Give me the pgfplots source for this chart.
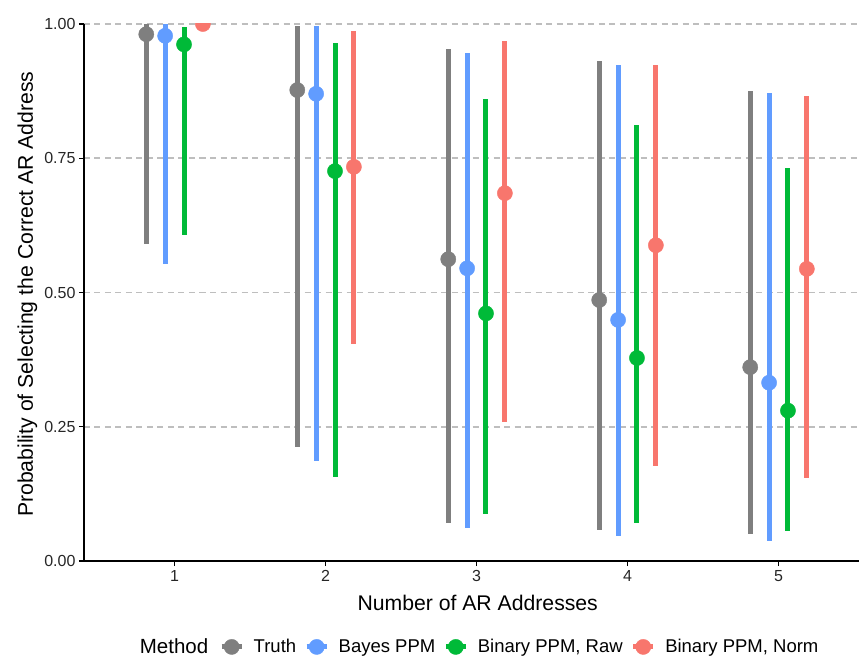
\documentclass[border=0pt]{standalone}
\usepackage{pgfplots}
\usepackage{pgfplotstable}
\pgfplotsset{compat=1.18}
\usepackage{fontspec}
\setmainfont{Liberation Sans}

\definecolor{truthc}{HTML}{7F7F7F}
\definecolor{bayesc}{HTML}{619CFF}
\definecolor{rawc}{HTML}{00BA38}
\definecolor{normc}{HTML}{F8766D}
\definecolor{gridc}{HTML}{BEBEBE}

% n = number of AR addresses, p = estimate, lo/hi = interval ends
\pgfplotstableread{
n p lo hi
1 0.981 0.590 1.000
2 0.877 0.213 0.996
3 0.562 0.071 0.953
4 0.486 0.058 0.931
5 0.361 0.050 0.875
}\truth
\pgfplotstableread{
n p lo hi
1 0.978 0.554 1.000
2 0.870 0.186 0.996
3 0.545 0.061 0.946
4 0.449 0.047 0.924
5 0.332 0.037 0.872
}\bayes
\pgfplotstableread{
n p lo hi
1 0.962 0.607 0.994
2 0.726 0.157 0.965
3 0.461 0.088 0.860
4 0.378 0.071 0.812
5 0.280 0.055 0.732
}\raw
\pgfplotstableread{
n p lo hi
1 1.000 1.000 1.000
2 0.734 0.405 0.987
3 0.685 0.259 0.968
4 0.588 0.177 0.924
5 0.544 0.155 0.866
}\norm

\pgfplotsset{
  pointrange/.style={
    only marks, mark=*, mark size=7.6bp,
    color=#1, mark options={draw=none, fill=#1},
    error bars/y dir=both, error bars/y explicit, error bars/error mark=none,
    error bars/error bar style={line width=5bp, color=#1},
  },
  prkey/.style={legend image code/.code={
      \draw[line width=5bp,#1] (-10bp,0) -- (10bp,0);
      \fill[#1] (0,0) circle (7.6bp);}},
}

\begin{document}
\begin{tikzpicture}
\path[use as bounding box] (-84bp,-97bp) rectangle (775bp,561bp);
\begin{axis}[
  at={(0,0)}, anchor=south west,
  scale only axis, width=775bp, height=537bp,
  xmin=0.4, xmax=5.533, ymin=0, ymax=1,
  axis x line*=bottom, axis y line*=left,
  axis line style={line width=1.1bp, black},
  xtick={1,2,3,4,5}, ytick={0,0.25,0.5,0.75,1},
  tick align=outside, major tick length=5bp,
  tick style={line width=1.1bp, black},
  ymajorgrids,
  grid style={gridc, line width=1.6bp, dash pattern=on 6bp off 4.5bp},
  yticklabel style={/pgf/number format/.cd, fixed, fixed zerofill, precision=2},
  /pgf/number format/assume math mode=true,
  ticklabel style={font=\fontsize{16bp}{18bp}\selectfont, text=black!85},
  xticklabel style={yshift=-1bp},
  clip marker paths=true,
  xlabel={Number of AR Addresses},
  ylabel={Probability of Selecting the Correct AR Address},
  label style={font=\fontsize{21.2bp}{25bp}\selectfont},
  xlabel style={at={(axis description cs:0.508,-0.078)}, anchor=center},
  ylabel style={at={(axis description cs:-0.073,0.497)}, anchor=center},
  legend columns=-1,
  legend style={
    at={(axis description cs:0.505,-0.160)}, anchor=center,
    draw=none, fill=none,
    font=\fontsize{18.5bp}{21bp}\selectfont,
    % odd columns hold the keys, even columns the labels
    /tikz/every odd column/.append style={column sep=7.5bp},
    /tikz/every even column/.append style={column sep=6bp},
  },
]
\addlegendimage{empty legend}
\addlegendentry{\fontsize{20.5bp}{24bp}\selectfont Method\kern3bp}
\addlegendimage{prkey=truthc}\addlegendentry{Truth}
\addlegendimage{prkey=bayesc}\addlegendentry{Bayes PPM}
\addlegendimage{prkey=rawc}\addlegendentry{Binary PPM, Raw}
\addlegendimage{prkey=normc}\addlegendentry{Binary PPM, Norm}

\addplot[forget plot, pointrange=truthc] table[x expr=\thisrow{n}-0.1875, y=p,
  y error plus expr=\thisrow{hi}-\thisrow{p}, y error minus expr=\thisrow{p}-\thisrow{lo}] {\truth};
\addplot[forget plot, pointrange=bayesc] table[x expr=\thisrow{n}-0.0625, y=p,
  y error plus expr=\thisrow{hi}-\thisrow{p}, y error minus expr=\thisrow{p}-\thisrow{lo}] {\bayes};
\addplot[forget plot, pointrange=rawc] table[x expr=\thisrow{n}+0.0625, y=p,
  y error plus expr=\thisrow{hi}-\thisrow{p}, y error minus expr=\thisrow{p}-\thisrow{lo}] {\raw};
\addplot[forget plot, pointrange=normc] table[x expr=\thisrow{n}+0.1875, y=p,
  y error plus expr=\thisrow{hi}-\thisrow{p}, y error minus expr=\thisrow{p}-\thisrow{lo}] {\norm};
\end{axis}
\end{tikzpicture}
\end{document}
